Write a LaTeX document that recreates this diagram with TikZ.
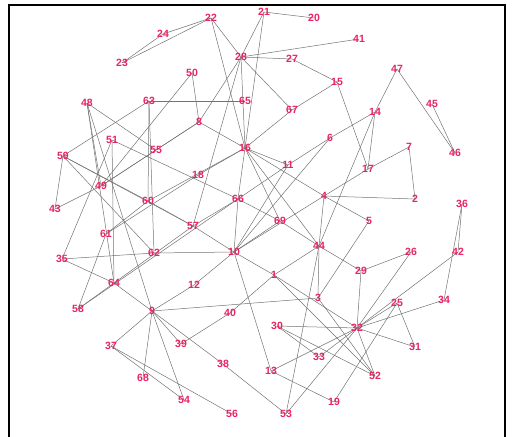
\documentclass[tikz,border=0pt]{standalone}
\usepackage{fontspec}
\setmainfont{Liberation Sans}
\pgfdeclarelayer{bg}
\pgfsetlayers{bg,main}
\definecolor{lblred}{RGB}{234,36,98}
\definecolor{edgegray}{RGB}{115,115,115}
\tikzset{
  lbl/.style={text=lblred,font=\fontsize{10.5}{11}\selectfont\bfseries,inner sep=0pt,anchor=center},
  edge/.style={draw=edgegray,line width=0.5pt},
  frameline/.style={draw=black,line width=1.6pt}
}
\begin{document}
\begin{tikzpicture}[x=1pt,y=-1pt]
\useasboundingbox (0,0) rectangle (513,436);
\draw[frameline] (9,437) -- (9,5) -- (505,5) -- (505,437);
\foreach \n/\x/\y in {1/274/275,2/415/199,3/318/298,4/324/196,5/369/221,6/330/138,7/409/147,8/199/122,9/152/311,10/234/252,
11/288/165,12/194/285,13/271/371,14/375/112,15/337/82,16/245/148,17/368/169,18/198/175,19/334/402,20/314/18,
21/264/12,22/211/18,23/122/63,24/163/34,25/397/303,26/411/252,27/292/59,28/241/57,29/361/271,30/277/326,
31/415/347,32/357/328,33/319/357,34/444/300,35/62/259,36/462/204,37/111/346,38/223/364,39/181/344,40/230/313,
41/359/39,42/458/252,43/55/209,44/319/246,45/432/104,46/455/153,47/397/69,48/87/103,49/101/186,50/192/73,
51/112/140,52/375/376,53/286/414,54/184/400,55/156/150,56/232/414,57/193/226,58/78/309,59/63/156,60/148/201,
61/106/234,62/154/253,63/149/101,64/114/283,65/245/101,66/238/199,67/292/110,68/143/378,69/280/221}
{\node[lbl] (n\n) at (\x,\y) {\n};}
\begin{pgfonlayer}{bg}
\foreach \a/\b in {20/21,21/28,21/16,22/24,22/23,23/24,22/28,22/16,28/41,28/27,27/15,28/67,67/15,67/16,28/8,28/16,28/57,
50/8,50/49,63/65,63/59,63/60,63/62,48/55,55/8,55/49,49/8,48/49,48/64,48/9,8/16,47/14,47/46,45/46,14/6,6/11,14/17,14/44,
15/17,7/17,17/4,7/2,2/4,4/5,5/3,16/11,16/4,16/44,16/69,16/66,66/10,16/60,61/18,18/16,11/66,11/10,6/10,
59/60,59/57,60/57,57/10,59/62,59/43,43/49,51/35,51/64,51/66,35/62,62/10,35/64,58/64,58/61,58/66,64/57,57/66,61/60,64/9,
66/69,69/44,69/10,4/10,4/44,44/3,44/29,44/53,44/1,1/40,40/39,10/1,1/32,1/52,10/12,12/9,9/3,9/39,9/38,38/53,9/54,
9/68,9/37,37/54,37/56,10/13,13/32,13/19,25/19,25/31,25/32,42/32,36/42,36/34,34/32,26/29,26/32,29/32,31/32,32/52,
30/32,30/33,30/52,33/32,53/32,3/52}
{\draw[edge] (n\a.center) -- (n\b.center);}
\end{pgfonlayer}
\end{tikzpicture}
\end{document}
